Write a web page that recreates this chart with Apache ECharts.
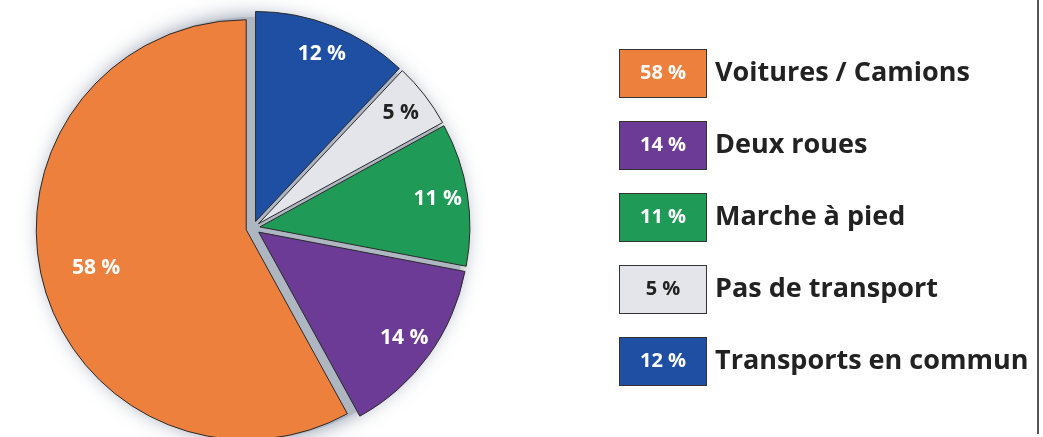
<!DOCTYPE html>
<html>
<head>
<meta charset="utf-8">
<script src="https://cdn.jsdelivr.net/npm/echarts@6/dist/echarts.min.js"></script>
<style>
  html, body { margin: 0; padding: 0; background: #fff; }
  #chart { width: 1043px; height: 437px; }
</style>
</head>
<body>
<div id="chart"></div>
<script>
// slices in clockwise order from 12 o'clock
const categories = ['Transports en commun', 'Pas de transport', 'Marche à pied', 'Deux roues', 'Voitures / Camions'];
const values = [12, 5, 11, 14, 58];
const colors = ['#1f4fa3', '#e3e5ea', '#1f9a57', '#6b3b96', '#ec803c'];
const labelColors = ['#fff', '#222', '#fff', '#fff', '#fff'];
// legend order (top to bottom)
const legendOrder = ['Voitures / Camions', 'Deux roues', 'Marche à pied', 'Pas de transport', 'Transports en commun'];

const center = [253, 228];
const R = 210;
const gapOffset = 7;

const sliceData = categories.map((name, i) => ({
  name: name,
  value: values[i],
  selected: true,
  itemStyle: { color: colors[i] }
}));

function labelData(showIdx) {
  return categories.map((name, i) => ({
    name: name,
    value: values[i],
    selected: true,
    label: { show: showIdx.indexOf(i) >= 0, color: labelColors[i] }
  }));
}

const rich = {
  name: { fontFamily: 'Open Sans', fontWeight: 'bold', fontSize: 27, color: '#222', padding: [0, 0, 0, 9] }
};
categories.forEach((name, i) => {
  rich['box' + i] = {
    width: 86, height: 47, align: 'center',
    backgroundColor: colors[i], borderColor: '#333', borderWidth: 1,
    color: labelColors[i], fontFamily: 'Open Sans', fontWeight: 'bold', fontSize: 20
  };
});

const labelFont = { fontFamily: 'Open Sans', fontWeight: 'bold', fontSize: 21 };

const option = {
  backgroundColor: '#fff',
  animation: false,
  legend: {
    orient: 'vertical',
    left: 610,
    top: 44,
    icon: 'none',
    itemWidth: 0,
    itemHeight: 47,
    itemGap: 23,
    selectedMode: false,
    data: legendOrder,
    formatter: function (name) {
      const i = categories.indexOf(name);
      return '{box' + i + '|' + values[i] + ' %}{name|' + name + '}';
    },
    textStyle: { rich: rich }
  },
  graphic: [{
    type: 'line',
    shape: { x1: 1038, y1: 0, x2: 1038, y2: 434 },
    style: { stroke: '#555', lineWidth: 2 }
  }],
  series: [
    {
      // grey base showing through the gaps, with soft halo
      type: 'pie',
      silent: true,
      center: center,
      radius: R + 1,
      label: { show: false },
      itemStyle: { color: '#aeb6c2', shadowBlur: 20, shadowColor: 'rgba(80,95,125,0.65)' },
      data: [{ name: 'base', value: 1 }]
    },
    {
      type: 'pie',
      center: center,
      radius: R,
      startAngle: 90,
      clockwise: true,
      selectedMode: 'multiple',
      selectedOffset: gapOffset,
      emphasis: { disabled: true },
      label: { show: false },
      labelLine: { show: false },
      itemStyle: { borderColor: '#2a2a2a', borderWidth: 1 },
      data: sliceData
    },
    {
      // labels for the small slices
      type: 'pie',
      silent: true,
      center: center,
      radius: [144, R],
      startAngle: 90,
      clockwise: true,
      selectedMode: 'multiple',
      selectedOffset: gapOffset,
      itemStyle: { color: 'rgba(0,0,0,0)' },
      label: Object.assign({ position: 'inside', formatter: '{c} %' }, labelFont),
      labelLine: { show: false },
      data: labelData([0, 1, 2, 3])
    },
    {
      // label for the large slice
      type: 'pie',
      silent: true,
      center: center,
      radius: [94, R],
      startAngle: 90,
      clockwise: true,
      selectedMode: 'multiple',
      selectedOffset: gapOffset,
      itemStyle: { color: 'rgba(0,0,0,0)' },
      label: Object.assign({ position: 'inside', formatter: '{c} %' }, labelFont),
      labelLine: { show: false },
      data: labelData([4])
    }
  ]
};

const chart = echarts.init(document.getElementById('chart'), null, { renderer: 'canvas' });
chart.setOption(option);
</script>
</body>
</html>
